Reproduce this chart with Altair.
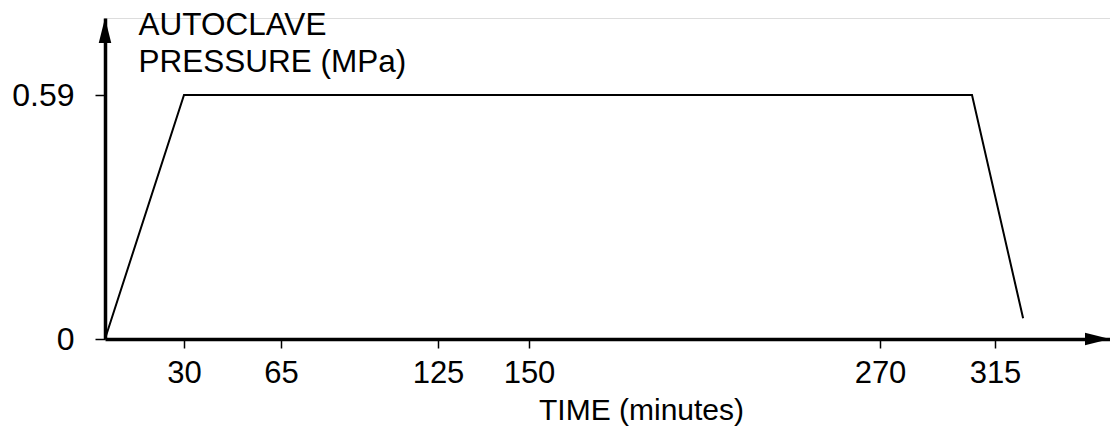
import altair as alt
import pandas as pd

# Data
time_min = [0, 30, 306, 326]
pressure_mpa = [0, 0.59, 0.59, 0.05]
x_ticks = [30, 65, 125, 150, 270, 315]
y_ticks = [0, 0.59]

FONT = "Liberation Sans"
W, H = 1005, 321

# schematic (non-uniform) time axis: piecewise linear scale
x_domain = [0, 30, 65, 125, 150, 270, 315, 360]
x_range = [0, 79, 176, 333, 424, 775, 890, 1005]
y_max = 0.59 * H / 244.0

df = pd.DataFrame({"t": time_min, "p": pressure_mpa})

xs = alt.Scale(domain=x_domain, range=x_range, nice=False, zero=False)
ys = alt.Scale(domain=[0, y_max], nice=False, zero=False)

x_axis = alt.Axis(
    values=x_ticks, grid=False, domainColor="black", domainWidth=3.5,
    tickColor="black", tickWidth=1.5, tickSize=9, labelPadding=10,
    labelFont=FONT, labelFontSize=31, labelColor="black",
    title="TIME (minutes)", titleFont=FONT, titleFontSize=30,
    titleFontWeight="normal", titleColor="black", titleX=536, titleY=80,
    titleAlign="center", titleBaseline="alphabetic", titleAnchor="start",
)
y_axis = alt.Axis(
    values=y_ticks, grid=False, domainColor="black", domainWidth=3.5,
    tickColor="black", tickWidth=1.5, tickSize=10, labelPadding=21,
    labelFont=FONT, labelFontSize=32, labelColor="black",
    labelExpr="datum.value == 0 ? '0' : format(datum.value, '.2f')",
    title=["AUTOCLAVE", "PRESSURE (MPa)"], titleFont=FONT, titleFontSize=31.5,
    titleFontWeight="normal", titleColor="black", titleAngle=0,
    titleX=33, titleY=16, titleAlign="left", titleBaseline="alphabetic",
    titleLineHeight=37, titleAnchor="start",
)

line = alt.Chart(df).mark_line(color="black", strokeWidth=2).encode(
    x=alt.X("t:Q", scale=xs, axis=x_axis),
    y=alt.Y("p:Q", scale=ys, axis=y_axis),
)

arrow_x = alt.Chart(pd.DataFrame({"t": [x_domain[-1]], "p": [0]})).mark_point(
    shape="M0,0 L-2,-0.5 L-2,0.5 Z", filled=True, size=625, color="black",
    opacity=1, strokeWidth=0,
).encode(x=alt.X("t:Q", scale=xs), y=alt.Y("p:Q", scale=ys))

arrow_y = alt.Chart(pd.DataFrame({"t": [0], "p": [y_max]})).mark_point(
    shape="M0,0 L-0.5,2 L0.5,2 Z", filled=True, size=625, color="black",
    opacity=1, strokeWidth=0,
).encode(x=alt.X("t:Q", scale=xs), y=alt.Y("p:Q", scale=ys))

chart = alt.layer(line, arrow_x, arrow_y).properties(
    width=W, height=H,
    autosize=alt.AutoSizeParams(type="none"),
    padding={"left": 105, "top": 18, "right": 0, "bottom": 95},
).configure_view(stroke=None).configure(background="white")

chart.save("out.html", embed_options={"renderer": "svg", "actions": False})
